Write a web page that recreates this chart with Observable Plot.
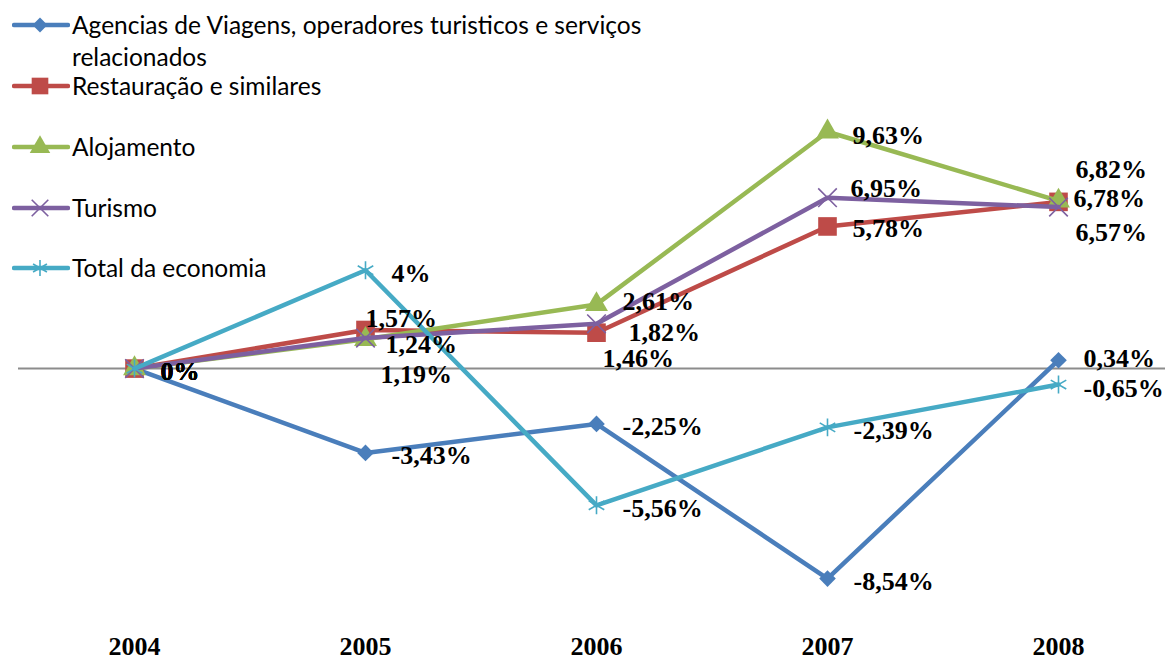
<!DOCTYPE html>
<html>
<head>
<meta charset="utf-8">
<script src="https://cdn.jsdelivr.net/npm/d3@7"></script>
<script src="https://cdn.jsdelivr.net/npm/@observablehq/plot@0.6"></script>
<style>
  html, body { margin: 0; padding: 0; background: #fff; }
  #wrap { position: relative; width: 1165px; height: 664px; overflow: hidden; }
  #legend { position: absolute; left: 0; top: 0; font-family: Lato, "Open Sans", sans-serif; font-size: 24.5px; color: #000; }
  .item { position: absolute; left: 12px; display: flex; align-items: flex-start; white-space: nowrap; }
  .item svg { flex: none; }
  .item .lbl { margin-left: 2px; line-height: 32px; }
</style>
</head>
<body>
<div id="wrap"><div id="chart"></div><div id="legend"></div></div>
<script>
// ---- data ----
const years = ["2004", "2005", "2006", "2007", "2008"];
const seriesNames = [
  "Agencias de Viagens, operadores turisticos e serviços relacionados",
  "Restauração e similares",
  "Alojamento",
  "Turismo",
  "Total da economia"
];
const agencias    = [0, -3.43, -2.25, -8.54, 0.34];
const restauracao = [0, 1.57, 1.46, 5.78, 6.78];
const alojamento  = [0, 1.19, 2.61, 9.63, 6.82];
const turismo     = [0, 1.24, 1.82, 6.95, 6.57];
const total       = [0, 4, -5.56, -2.39, -0.65];

// ---- styles ----
const seriesValues = [agencias, restauracao, alojamento, turismo, total];
const colors  = ["#4A7EBB", "#BE4B48", "#98B954", "#7D60A0", "#46AAC5"];
const symbols = ["diamond2", "square", "triangle", "times", "asterisk"];
const symR    = [7.5, 10.5, 8.5, 8.5, 8.5];
const serif = "'Liberation Serif', 'Times New Roman', serif";

const rows = [];
seriesNames.forEach((s, i) => {
  years.forEach((y, j) => rows.push({series: s, si: i, year: y, value: seriesValues[i][j]}));
});

const fmt = v => String(v).replace(".", ",") + "%";

// label nudges (layout only)
const nudge = {
  "1|2005": [0, -11], "3|2005": [20, 7], "2|2005": [15, 35],
  "2|2006": [26, -3], "3|2006": [32, 9], "1|2006": [6, 26],
  "2|2007": [25, 4], "3|2007": [23, -9], "1|2007": [25, 2],
  "2|2008": [17, -31], "1|2008": [15, -3], "3|2008": [17, 26],
  "0|2008": [25, -2], "4|2008": [25, 4]
};

const marks = [
  Plot.ruleY([0], {stroke: "#8c8c8c", strokeWidth: 2, insetLeft: -115, insetRight: -107})
];
seriesNames.forEach((s, i) => {
  const d = rows.filter(r => r.si === i);
  marks.push(Plot.line(d, {x: "year", y: "value", stroke: colors[i], strokeWidth: 4.5}));
  const stroked = symbols[i] === "times" || symbols[i] === "asterisk";
  marks.push(Plot.dot(d, {
    x: "year", y: "value", symbol: () => symbols[i], r: symR[i],
    fill: stroked ? "none" : colors[i], stroke: colors[i], strokeWidth: stroked ? 1.6 : 0
  }));
});
rows.forEach(r => {
  const [dx, dy] = nudge[r.si + "|" + r.year] || [26, 3];
  marks.push(Plot.text([r], {
    x: "year", y: "value", text: d => fmt(d.value), dx, dy,
    textAnchor: "start", fontSize: 26, fontWeight: "bold", fill: "#000", fontFamily: serif
  }));
});
marks.push(Plot.axisX({tickSize: 0, tickPadding: 22, fontSize: 26, fontWeight: "bold", fill: "#000", fontFamily: serif}));

const chart = Plot.plot({
  width: 1165,
  height: 664,
  marginLeft: 133,
  marginRight: 107,
  marginTop: 73,
  marginBottom: 50,
  style: {fontFamily: serif, color: "#000", background: "#fff", overflow: "visible"},
  x: {type: "point", domain: years, padding: 0, label: null},
  y: {domain: [-10, 12], axis: null},
  symbol: {type: "identity"},
  marks
});
document.getElementById("chart").appendChild(chart);

// ---- legend (overlay, top-left) ----
const legend = document.getElementById("legend");
const tops = [9, 70, 131, 192, 252];
seriesNames.forEach((s, i) => {
  const item = document.createElement("div");
  item.className = "item";
  item.style.top = tops[i] + "px";
  const sw = d3.create("svg").attr("width", 58).attr("height", 32);
  sw.append("line").attr("x1", 2).attr("x2", 56).attr("y1", 16).attr("y2", 16)
    .attr("stroke", colors[i]).attr("stroke-width", 4.5).attr("stroke-linecap", "round");
  const st = {diamond2: d3.symbolDiamond2, square: d3.symbolSquare, triangle: d3.symbolTriangle,
              times: d3.symbolTimes, asterisk: d3.symbolAsterisk}[symbols[i]];
  const stroked = symbols[i] === "times" || symbols[i] === "asterisk";
  sw.append("path").attr("transform", "translate(28,16)")
    .attr("d", d3.symbol(st, Math.PI * symR[i] * symR[i] * 0.8)())
    .attr("fill", stroked ? "none" : colors[i])
    .attr("stroke", stroked ? colors[i] : "none").attr("stroke-width", 1.6);
  item.appendChild(sw.node());
  const lbl = document.createElement("div");
  lbl.className = "lbl";
  if (i === 0) {
    lbl.innerHTML = "Agencias de Viagens, operadores turisticos e serviços<br>relacionados";
  } else {
    lbl.textContent = s;
  }
  item.appendChild(lbl);
  legend.appendChild(item);
});
</script>
</body>
</html>
